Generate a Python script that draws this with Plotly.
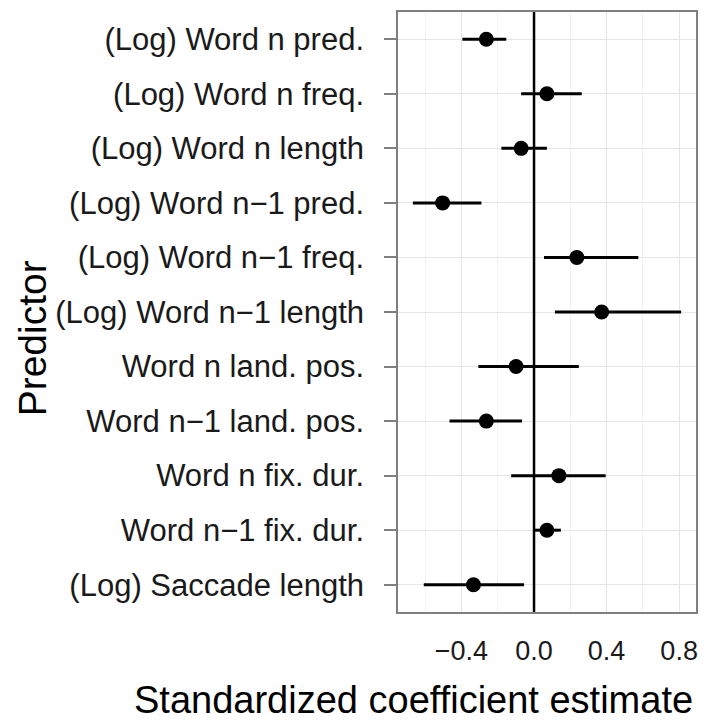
import plotly.graph_objects as go

predictors = ["(Log) Word n pred.", "(Log) Word n freq.", "(Log) Word n length",
              "(Log) Word n\u22121 pred.", "(Log) Word n\u22121 freq.", "(Log) Word n\u22121 length",
              "Word n land. pos.", "Word n\u22121 land. pos.", "Word n fix. dur.",
              "Word n\u22121 fix. dur.", "(Log) Saccade length"]
estimate = [-0.263, 0.071, -0.071, -0.504, 0.236, 0.373, -0.099, -0.263, 0.137, 0.071, -0.334]
lower = [-0.395, -0.071, -0.18, -0.668, 0.055, 0.115, -0.307, -0.466, -0.126, 0.0, -0.608]
upper = [-0.153, 0.263, 0.071, -0.29, 0.575, 0.811, 0.247, -0.066, 0.395, 0.148, -0.055]

fig = go.Figure()
for p, lo, hi in zip(predictors, lower, upper):
    fig.add_trace(go.Scatter(x=[lo, hi], y=[p, p], mode="lines",
                             line=dict(color="black", width=3), showlegend=False, hoverinfo="skip"))
fig.add_trace(go.Scatter(x=estimate, y=predictors, mode="markers",
                         marker=dict(color="black", size=15), showlegend=False))
fig.add_vline(x=0, line=dict(color="black", width=2.5))

W, H, L, R, T, B = 708, 727, 398, 10, 10, 115
fig.update_layout(
    width=W, height=H, plot_bgcolor="white", paper_bgcolor="white",
    margin=dict(l=L, r=R, t=T, b=B),
    font=dict(family="Liberation Sans, Arial", size=24, color="black"),
    xaxis=dict(range=[-0.75, 0.893], tickvals=[-0.4, 0.0, 0.4, 0.8],
               ticktext=["\u22120.4", "0.0", "0.4", "0.8"],
               tickfont=dict(size=27, color="#1a1a1a"),
               showgrid=True, gridcolor="#e6e6e6", gridwidth=1,
               minor=dict(showgrid=True, gridcolor="#f2f2f2", dtick=0.2, tick0=-0.2),
               showline=True, linecolor="#7f7f7f", linewidth=1.5, mirror=True,
               zeroline=False, ticks="outside", ticklen=14, tickcolor="rgba(0,0,0,0)"),
    yaxis=dict(categoryorder="array", categoryarray=predictors[::-1],
               range=[-0.5, 10.5], tickfont=dict(size=31, color="#1a1a1a"),
               showgrid=True, gridcolor="#e6e6e6",
               showline=True, linecolor="#7f7f7f", linewidth=1.5, mirror=True,
               ticks="outside", ticklen=12, tickcolor="#7f7f7f", tickwidth=1.5,
               ticklabelstandoff=14),
)
fig.add_annotation(text="Standardized coefficient estimate", xref="paper", yref="paper",
                   x=(414 - L) / (W - L - R), y=-(700 - (H - B)) / (H - T - B),
                   xanchor="center", yanchor="middle", showarrow=False, font=dict(size=38))
fig.add_annotation(text="Predictor", xref="paper", yref="paper",
                   x=-(L - 30) / (W - L - R), y=(H - B - 337) / (H - T - B),
                   xanchor="center", yanchor="middle", textangle=-90, showarrow=False,
                   font=dict(size=39))
html = fig.to_html(include_plotlyjs=True, full_html=True, config=dict(displayModeBar=False))
html = html.replace("<body>", '<body style="margin:0;overflow:hidden">', 1)
with open("out.html", "w", encoding="utf-8") as f:
    f.write(html)
